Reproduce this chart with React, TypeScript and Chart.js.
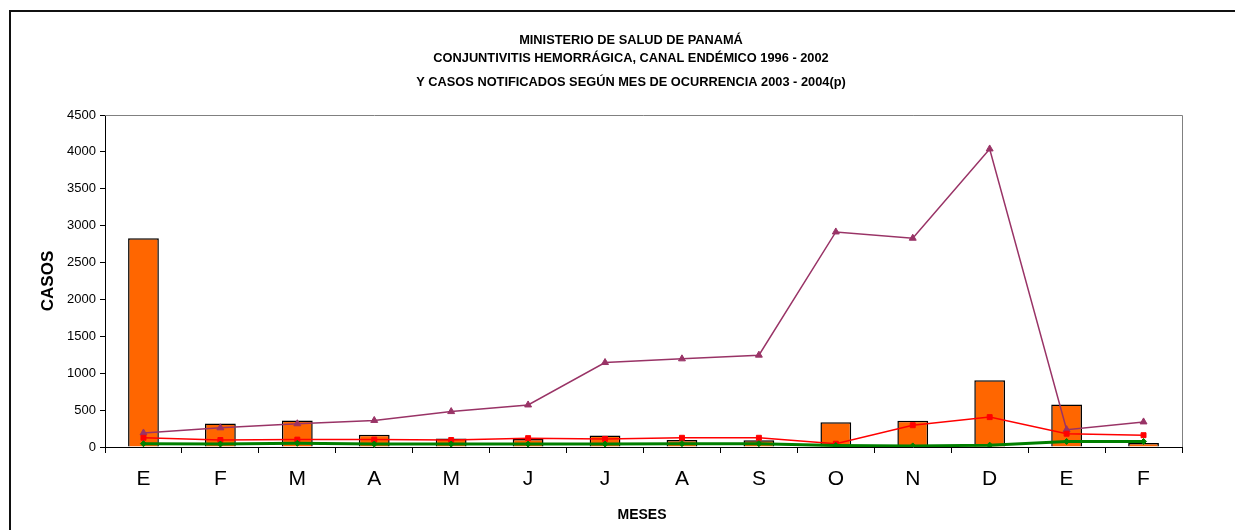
import React, { useEffect, useRef } from "react";
import { Chart, registerables } from "chart.js";

Chart.register(...registerables);

const months = ["E", "F", "M", "A", "M", "J", "J", "A", "S", "O", "N", "D", "E", "F"];
const casos = [2830, 320, 360, 165, 115, 110, 155, 95, 90, 335, 355, 905, 575, 55];
const zonaEpidemica = [190, 260, 315, 360, 480, 570, 1145, 1195, 1245, 2915, 2830, 4040, 235, 340];
const zonaSeguridad = [125, 95, 100, 100, 95, 120, 110, 125, 125, 45, 295, 405, 180, 160];
const zonaExito = [45, 40, 50, 40, 40, 40, 40, 45, 45, 20, 15, 25, 75, 75];
const yTicks = [0, 500, 1000, 1500, 2000, 2500, 3000, 3500, 4000, 4500];

const titleLines = [
  "MINISTERIO DE SALUD DE PANAMÁ",
  "CONJUNTIVITIS HEMORRÁGICA, CANAL ENDÉMICO 1996 - 2002",
  "Y CASOS NOTIFICADOS SEGÚN MES DE OCURRENCIA 2003 - 2004(p)",
];

const FONT = "'Liberation Sans', Arial, sans-serif";

const decorPlugin = {
  id: "decor",
  beforeDraw(chart: any) {
    const ctx = chart.ctx;
    ctx.save();
    ctx.fillStyle = "#fff";
    ctx.fillRect(0, 0, chart.width, chart.height);
    ctx.restore();
  },
  afterDraw(chart: any) {
    const ctx = chart.ctx;
    const a = chart.chartArea;
    ctx.save();
    // plot area top/right border
    ctx.strokeStyle = "#808080";
    ctx.lineWidth = 1;
    ctx.beginPath();
    ctx.moveTo(a.left, a.top + 0.5);
    ctx.lineTo(a.right + 0.5, a.top + 0.5);
    ctx.lineTo(a.right + 0.5, a.bottom);
    ctx.stroke();
    // outer frame
    ctx.strokeStyle = "#111";
    ctx.lineWidth = 2;
    ctx.beginPath();
    ctx.moveTo(10, chart.height);
    ctx.lineTo(10, 11);
    ctx.lineTo(chart.width, 11);
    ctx.stroke();
    // titles
    ctx.fillStyle = "#000";
    ctx.textAlign = "center";
    ctx.textBaseline = "middle";
    ctx.font = `bold 12.8px ${FONT}`;
    ctx.fillText(titleLines[0], 631, 40);
    ctx.fillText(titleLines[1], 631, 58);
    ctx.fillText(titleLines[2], 631, 82);
    // axis titles
    ctx.font = `bold 14px ${FONT}`;
    ctx.fillText("MESES", 642, 515);
    ctx.translate(48, 281);
    ctx.rotate(-Math.PI / 2);
    ctx.font = `bold 17px ${FONT}`;
    ctx.fillText("CASOS", 0, 0);
    ctx.restore();
  },
};

export default function App() {
  const ref = useRef<HTMLCanvasElement>(null);
  useEffect(() => {
    if (!ref.current) return;
    const chart = new Chart(ref.current, {
      type: "bar",
      data: {
        labels: months,
        datasets: [
          {
            type: "line",
            label: "Zona de éxito",
            data: zonaExito,
            borderColor: "#008000",
            backgroundColor: "#008000",
            borderWidth: 3,
            pointStyle: "rectRot",
            pointRadius: 3,
            pointBorderWidth: 1,
            tension: 0,
            order: 1,
          },
          {
            type: "line",
            label: "Zona de seguridad",
            data: zonaSeguridad,
            borderColor: "#FF0000",
            backgroundColor: "#FF0000",
            borderWidth: 1.5,
            pointStyle: "rect",
            pointRadius: 3.5,
            pointBorderWidth: 1,
            tension: 0,
            order: 2,
          },
          {
            type: "line",
            label: "Zona epidémica",
            data: zonaEpidemica,
            borderColor: "#993366",
            backgroundColor: "#993366",
            borderWidth: 1.5,
            pointStyle: "triangle",
            pointRadius: 4,
            pointBorderWidth: 1,
            tension: 0,
            order: 3,
          },
          {
            type: "bar",
            label: "Casos",
            data: casos,
            backgroundColor: "#FF6600",
            borderColor: "#000",
            borderWidth: 1.5,
            barPercentage: 0.4,
            categoryPercentage: 1,
            order: 4,
          },
        ],
      },
      options: {
        responsive: false,
        animation: false,
        layout: { padding: { left: 0, top: 115, right: 53, bottom: 0 } },
        plugins: {
          legend: { display: false },
          title: { display: false },
          tooltip: { enabled: false },
        },
        scales: {
          x: {
            type: "category",
            offset: true,
            grid: {
              display: true,
              offset: true,
              drawOnChartArea: false,
              drawTicks: true,
              tickLength: 6,
              color: "#000",
            },
            border: { display: true, color: "#000", width: 1 },
            ticks: {
              color: "#000",
              font: { family: FONT, size: 21 },
              padding: 14,
              maxRotation: 0,
              autoSkip: false,
            },
            afterFit(scale: any) {
              scale.height = 83;
            },
          },
          y: {
            min: 0,
            max: 4500,
            afterBuildTicks(scale: any) {
              scale.ticks = yTicks.map((v) => ({ value: v }));
            },
            grid: {
              display: true,
              drawOnChartArea: false,
              drawTicks: true,
              tickLength: 5,
              color: "#000",
            },
            border: { display: true, color: "#000", width: 1 },
            ticks: {
              color: "#000",
              font: { family: FONT, size: 13 },
              padding: 4,
              callback: (v: any) => String(v),
            },
            afterFit(scale: any) {
              scale.width = 105;
            },
          },
        },
      },
      plugins: [decorPlugin],
    });
    return () => chart.destroy();
  }, []);
  return (
    <div style={{ position: "fixed", left: 0, top: 0, width: 1235, height: 530 }}>
      <canvas ref={ref} width={1235} height={530} style={{ width: 1235, height: 530, display: "block" }} />
    </div>
  );
}
